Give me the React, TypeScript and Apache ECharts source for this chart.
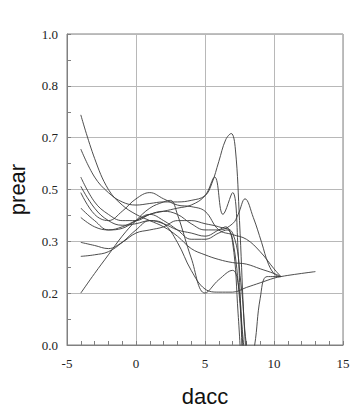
import React, { useEffect, useRef } from "react";
import * as echarts from "echarts";

const xTicks = [-5, 0, 5, 10, 15];
const yTickLabels = ["0.0", "0.2", "0.3", "0.5", "0.7", "0.8", "1.0"];

const curve1: number[][] = [[-4, 0.74], [-3, 0.6], [-2, 0.5], [-1, 0.45], [0, 0.42], [1, 0.4], [2, 0.38], [3, 0.35], [4, 0.31], [5, 0.29], [6, 0.275], [7, 0.265], [8, 0.26], [9, 0.245], [10, 0.23], [10.5, 0.22]];
const curve2: number[][] = [[-4, 0.63], [-3, 0.54], [-2, 0.49], [-1, 0.46], [0, 0.45], [1, 0.455], [2, 0.46], [3, 0.46], [4, 0.465], [5, 0.48], [5.5, 0.52], [6, 0.59], [6.5, 0.66], [6.9, 0.68], [7.2, 0.63], [7.5, 0.4], [7.8, 0.1], [8, -0.05]];
const curve3: number[][] = [[-4, 0.54], [-3, 0.46], [-2, 0.42], [-1, 0.4], [0, 0.4], [1, 0.42], [2, 0.43], [3, 0.44], [4, 0.45], [5, 0.48], [5.7, 0.54], [6.3, 0.42], [7, 0.49], [7.4, 0.3], [7.7, -0.05]];
const curve4: number[][] = [[-4, 0.51], [-3, 0.44], [-2, 0.4], [-1, 0.385], [0, 0.39], [1, 0.4], [2, 0.39], [3, 0.37], [4, 0.36], [5, 0.35], [6, 0.37], [6.5, 0.38], [7, 0.33], [7.4, 0.1], [7.6, -0.05]];
const curve5: number[][] = [[-4, 0.49], [-3, 0.42], [-2, 0.4], [-1, 0.43], [0, 0.47], [1, 0.49], [2, 0.47], [3, 0.45], [4, 0.445], [5, 0.43], [6, 0.37], [7, 0.355], [8, 0.34], [9, 0.3], [10, 0.245], [10.5, 0.22]];
const curve6: number[][] = [[-4, 0.44], [-3, 0.4], [-2, 0.37], [-1, 0.375], [0, 0.4], [1, 0.42], [2, 0.4], [3, 0.37], [4, 0.34], [5, 0.34], [6, 0.36], [6.6, 0.37], [7, 0.34], [7.5, 0.15], [7.8, -0.05]];
const curve7: number[][] = [[-4, 0.41], [-3, 0.38], [-2, 0.37], [-1, 0.38], [0, 0.4], [1, 0.42], [2, 0.43], [3, 0.42], [4, 0.39], [5, 0.37], [6, 0.37], [7, 0.39], [7.4, 0.42], [7.9, 0.47], [8.5, 0.41], [9.1, 0.33], [9.6, 0.26], [10.1, 0.225], [10.5, 0.22]];
const curve8: number[][] = [[-4, 0.33], [-3, 0.32], [-2, 0.31], [-1, 0.33], [0, 0.36], [1, 0.37], [2, 0.38], [3, 0.4], [4, 0.4], [5, 0.39], [6, 0.38], [7, 0.36], [7.6, 0.2], [8, 0.0], [8.3, -0.05], [8.6, 0.0], [9, 0.15], [9.5, 0.22], [10.5, 0.22]];
const curve9: number[][] = [[-4, 0.285], [-3, 0.29], [-2, 0.3], [-1, 0.33], [0, 0.37], [1, 0.4], [2, 0.39], [3, 0.33], [4, 0.24], [5, 0.18], [6, 0.17], [7, 0.17], [8, 0.185], [9, 0.2], [10, 0.215], [10.5, 0.22], [11.5, 0.227], [13, 0.236]];
const curve10: number[][] = [[-4, 0.167], [-3, 0.23], [-2, 0.29], [-1, 0.35], [0, 0.4], [1, 0.44], [2, 0.46], [2.5, 0.465], [3, 0.42], [4, 0.28], [5, 0.167], [6, 0.21], [7, 0.24], [7.4, 0.2], [7.7, 0.05], [7.9, -0.05]];

const curves = [curve1, curve2, curve3, curve4, curve5, curve6, curve7, curve8, curve9, curve10];

const serif = "Liberation Serif";
const sans = "Liberation Sans";

export default function App() {
  const ref = useRef<HTMLDivElement>(null);
  useEffect(() => {
    if (!ref.current) return;
    const chart = echarts.init(ref.current, undefined, { renderer: "svg" });
    const yStep = 1 / 6;
    chart.setOption({
      animation: false,
      backgroundColor: "#ffffff",
      textStyle: { fontFamily: serif },
      grid: { left: 67, right: 21, top: 34, bottom: 66, show: true, borderColor: "#808080", borderWidth: 1, outerBoundsMode: "none", containLabel: false },
      xAxis: {
        type: "value",
        min: xTicks[0],
        max: xTicks[xTicks.length - 1],
        interval: 5,
        name: "dacc",
        nameLocation: "middle",
        nameGap: 40,
        nameTextStyle: { fontFamily: sans, fontSize: 22, color: "#111" },
        axisLine: { onZero: false, lineStyle: { color: "#808080", width: 1 } },
        axisTick: { inside: true, length: 4, lineStyle: { color: "#808080" } },
        minorTick: { show: true, splitNumber: 5, length: 4, lineStyle: { color: "#808080" } },
        axisLabel: { margin: 12, fontFamily: serif, fontSize: 13, color: "#222222" },
        splitLine: { show: true, lineStyle: { color: "#b8b8b8", width: 1 } },
      },
      yAxis: {
        type: "value",
        min: 0,
        max: 1,
        interval: yStep,
        name: "prear",
        nameLocation: "middle",
        nameGap: 39,
        nameTextStyle: { fontFamily: sans, fontSize: 22, color: "#111" },
        axisLine: { show: true, onZero: false, lineStyle: { color: "#808080", width: 1 } },
        axisTick: { show: true, inside: true, length: 4, lineStyle: { color: "#808080" } },
        minorTick: { show: true, splitNumber: 2, length: 4, lineStyle: { color: "#808080" } },
        axisLabel: {
          margin: 9,
          fontFamily: serif,
          fontSize: 13,
          color: "#222222",
          formatter: (v: number) => yTickLabels[Math.round(v / yStep)] ?? v.toFixed(1),
        },
        splitLine: { show: true, lineStyle: { color: "#b8b8b8", width: 1 } },
      },
      series: curves.map((c) => ({
        type: "line",
        data: c,
        smooth: 0.4,
        showSymbol: false,
        clip: true,
        lineStyle: { color: "#3a3a3a", width: 0.9 },
      })),
    });
    return () => chart.dispose();
  }, []);
  return <div ref={ref} style={{ position: "fixed", left: 0, top: 0, width: 364, height: 411 }} />;
}
